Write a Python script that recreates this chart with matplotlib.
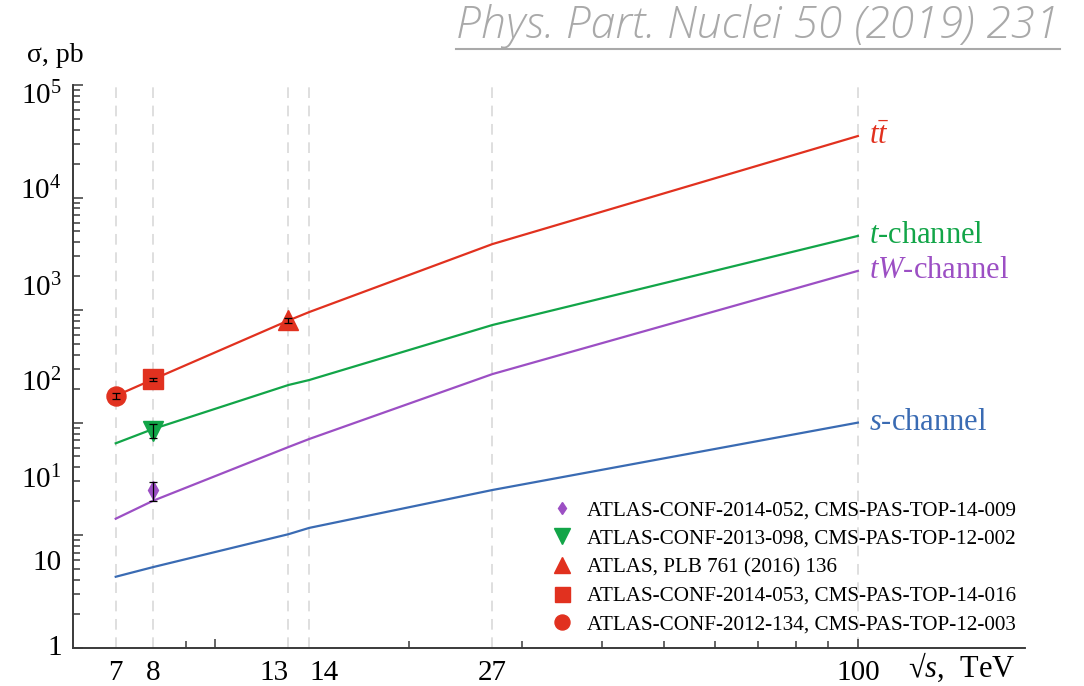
import matplotlib
matplotlib.use("Agg")
import matplotlib.pyplot as plt
from matplotlib.lines import Line2D
from matplotlib.ticker import FixedLocator, NullLocator

# ---- data -------------------------------------------------------------
energies = [7, 8, 13, 14, 27, 100]              # sqrt(s), TeV
xsec_ttbar = [173, 242, 808, 960, 3860, 35200]   # pb
xsec_tchan = [65.5, 87.7, 216, 239, 737, 4560]
xsec_tw = [14.0, 20.2, 60.7, 71.5, 270, 2230]
xsec_schan = [4.27, 5.2, 10.2, 11.6, 25.2, 100]

meas_labels = [
    "ATLAS-CONF-2014-052, CMS-PAS-TOP-14-009",
    "ATLAS-CONF-2013-098, CMS-PAS-TOP-12-002",
    "ATLAS, PLB 761 (2016) 136",
    "ATLAS-CONF-2014-053, CMS-PAS-TOP-14-016",
    "ATLAS-CONF-2012-134, CMS-PAS-TOP-12-003",
]
meas_energy = [8, 8, 13, 8, 7]
meas_value = [25.0, 85.0, 810, 242, 173]
meas_error = [4.7, 12.0, 35, 7, 10]

x_tick_values = [7, 8, 13, 14, 27, 100]
x_tick_labels = ["7", "8", "13", "14", "27", "100"]
x_minor_marks = [7, 8, 9, 20, 30, 40, 50, 60, 70, 80, 90]
x_long_marks = [10, 100]

y_tick_labels = ["1", "10", "$10^1$", "$10^2$", "$10^3$", "$10^4$", "$10^5$"]
y_label_exponents = [0.02, 0.78, 1.52, 2.38, 3.22, 4.08, 4.93]
y_decades = [1, 10, 100, 1e3, 1e4, 1e5]

# ---- style ------------------------------------------------------------
RED = "#e1311f"
GREEN = "#12a548"
PURPLE = "#9c4fc4"
BLUE = "#3a6bb3"
AXIS = "#3a3a3a"

plt.rcParams["font.family"] = ["Liberation Serif", "DejaVu Serif"]
plt.rcParams["mathtext.fontset"] = "custom"
plt.rcParams["mathtext.rm"] = "Liberation Serif"
plt.rcParams["mathtext.it"] = "Liberation Serif:italic"

fig = plt.figure(figsize=(10.84, 6.86), dpi=100)
W, H = 1084, 686
x0, x1, ytop, ybot = 72.7, 1025, 85, 647.7
ax = fig.add_axes([x0 / W, 1 - ybot / H, (x1 - x0) / W, (ybot - ytop) / H])
ax.set_xscale("log")
ax.set_yscale("log")
ax.set_xlim(6.0, 182)
ax.set_ylim(1, 1e5)

for s in ("top", "right"):
    ax.spines[s].set_visible(False)
for s in ("left", "bottom"):
    ax.spines[s].set_color(AXIS)
    ax.spines[s].set_linewidth(1.2)

# vertical guides at the collider energies
for e in energies:
    ax.axvline(e, color="#d6d6d6", lw=1.1, ls=(0, (7, 5)), zorder=0)

# theory curves
ax.plot(energies, xsec_ttbar, color=RED, lw=1.6, zorder=2)
ax.plot(energies, xsec_tchan, color=GREEN, lw=1.6, zorder=2)
ax.plot(energies, xsec_tw, color=PURPLE, lw=1.6, zorder=2)
ax.plot(energies, xsec_schan, color=BLUE, lw=1.6, zorder=2)

curve_names = [r"$t\bar{t}$", "$t$-channel", "$tW$-channel", "$s$-channel"]
curve_sets = [xsec_ttbar, xsec_tchan, xsec_tw, xsec_schan]
curve_colors = [RED, GREEN, PURPLE, BLUE]
for name, ys, c in zip(curve_names, curve_sets, curve_colors):
    ax.annotate(name, (energies[-1], ys[-1]), xytext=(8, 0),
                textcoords="offset points", ha="left", va="center",
                fontsize=22, color=c)

# measurements
meas_styles = [("d", PURPLE, 9.2, 6.0), ("v", GREEN, 13.7, 11.0),
               ("^", RED, 13.7, 11.5), ("s", RED, 13.7, 10.8),
               ("o", RED, 13.7, 10.8)]
handles = []
for (m, c, ms, ms_leg), e, v, err, lab in zip(meas_styles, meas_energy,
                                              meas_value, meas_error,
                                              meas_labels):
    ax.plot([e], [v], ls="none", marker=m, color=c, ms=ms, mec=c, zorder=4)
    ax.errorbar([e], [v], yerr=[err], fmt="none", ecolor="black",
                elinewidth=0.9, capsize=2.8, capthick=0.9, zorder=5)
    handles.append(Line2D([], [], ls="none", marker=m, color=c, mec=c,
                          ms=ms_leg, label=lab))

ax.legend(handles=handles, loc="upper left", bbox_to_anchor=(0.503, 0.262),
          frameon=False, fontsize=15.2, handlelength=1.0, handletextpad=0.65,
          labelspacing=0.42, borderpad=0, borderaxespad=0)

# x axis ticks
ax.xaxis.set_major_locator(FixedLocator(x_tick_values))
ax.set_xticklabels(x_tick_labels)
ax.xaxis.set_minor_locator(FixedLocator(x_minor_marks))
ax.tick_params(axis="x", which="major", length=0, pad=9, labelsize=21,
               colors="black")
ax.tick_params(axis="x", which="minor", direction="in", length=4.8,
               width=1.1, color=AXIS, labelbottom=False)
for lbl in ax.get_xticklabels():
    if lbl.get_text() == "13":
        lbl.set_horizontalalignment("right")
    elif lbl.get_text() == "14":
        lbl.set_horizontalalignment("left")

secx = ax.secondary_xaxis("bottom")
secx.set_xticks(x_long_marks)
secx.xaxis.set_minor_locator(NullLocator())
secx.tick_params(direction="in", length=6.8, width=1.1, color=AXIS,
                 labelbottom=False)
secx.spines["bottom"].set_color(AXIS)
secx.spines["bottom"].set_linewidth(1.2)

# y axis ticks
ax.yaxis.set_major_locator(FixedLocator([10 ** p for p in y_label_exponents]))
ax.set_yticklabels(y_tick_labels)
ax.yaxis.set_minor_locator(FixedLocator(
    [m * d for d in y_decades[:-1] for m in range(2, 10)]))
ax.tick_params(axis="y", which="major", length=0, pad=8, labelsize=21)
ax.tick_params(axis="y", which="minor", direction="in", length=4.8,
               width=1.1, color=AXIS, labelleft=False)

secy = ax.secondary_yaxis("left")
secy.set_yticks(y_decades)
secy.yaxis.set_minor_locator(NullLocator())
secy.tick_params(direction="in", length=7.2, width=1.1, color=AXIS,
                 labelleft=False)
secy.spines["left"].set_color(AXIS)
secy.spines["left"].set_linewidth(1.2)

# axis titles
ax.set_ylabel("σ, pb", rotation=0, fontsize=20, ha="center", va="center")
ax.yaxis.set_label_coords(-0.0186, 1.0533)
ax.set_xlabel("√$s$,  TeV", fontsize=22, ha="right", va="center")
ax.xaxis.set_label_coords(0.9895, -0.034)

# reference note, underlined
note = fig.text(1060 / W, 1 - 26 / H, "Phys. Part. Nuclei 50 (2019) 231",
                ha="right", va="center", fontsize=32, color="#a9a9a9",
                family="Open Sans", style="italic", weight="light")
fig.canvas.draw()
bb = note.get_window_extent().transformed(fig.transFigure.inverted())
fig.add_artist(Line2D([bb.x0, bb.x1], [bb.y0 - 0.001, bb.y0 - 0.001],
                      transform=fig.transFigure, color="#a9a9a9", lw=1.5))

fig.savefig("out.png", dpi=100)
